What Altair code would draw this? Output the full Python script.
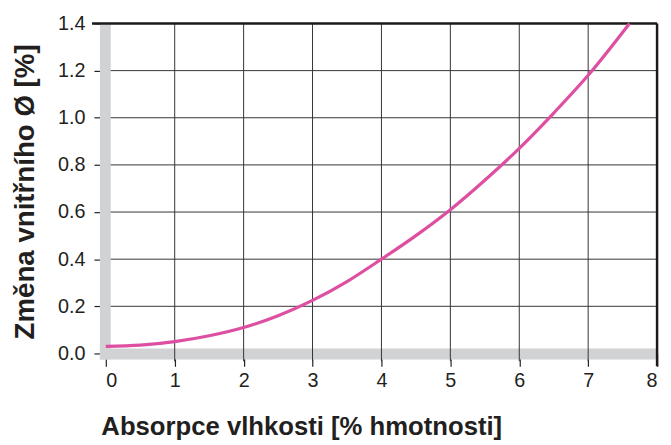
import altair as alt
import pandas as pd

# Data
absorption = [0, 0.5, 1, 1.5, 2, 2.5, 3, 3.5, 4, 4.5, 5, 5.5, 6, 6.5, 7, 7.6]
change = [0.03, 0.035, 0.05, 0.075, 0.11, 0.16, 0.225, 0.305, 0.40, 0.50,
          0.61, 0.735, 0.87, 1.02, 1.18, 1.40]
x_ticks = [0, 1, 2, 3, 4, 5, 6, 7, 8]
y_ticks = [0.0, 0.2, 0.4, 0.6, 0.8, 1.0, 1.2, 1.4]
x_grid = [1, 2, 3, 4, 5, 6, 7]
y_grid = [0.2, 0.4, 0.6, 0.8, 1.0, 1.2]

W, H = 558, 334
FONT = "Liberation Sans"
GRAY = "#d1d2d4"
PINK = "#de4fa2"
TXT = "#231f20"

xs = alt.Scale(domain=[0, 8], nice=False, zero=False)
ys = alt.Scale(domain=[0, 1.4], nice=False, zero=False)

curve_df = pd.DataFrame({"x": absorption, "y": change})
xg_df = pd.DataFrame({"x": x_grid})
yg_df = pd.DataFrame({"y": y_grid})
one = pd.DataFrame({"a": [0]})

# horizontal grid lines
hgrid = alt.Chart(yg_df).mark_rule(color="#333333", strokeWidth=1).encode(
    y=alt.Y("y:Q", scale=ys),
    x=alt.value(0), x2=alt.value(W),
)

# gray bands along the axes
left_band = alt.Chart(one).mark_rect(color=GRAY).encode(
    x=alt.value(-6), x2=alt.value(5), y=alt.value(0), y2=alt.value(H + 6)
)
bottom_band = alt.Chart(one).mark_rect(color=GRAY).encode(
    x=alt.value(-6), x2=alt.value(W), y=alt.value(H - 5), y2=alt.value(H + 6)
)

# vertical grid lines
vgrid = alt.Chart(xg_df).mark_rule(color="#333333", strokeWidth=1).encode(
    x=alt.X("x:Q", scale=xs),
    y=alt.value(0), y2=alt.value(H + 8),
)

# top and right borders
top_border = alt.Chart(one).mark_rule(color="#1a1a1a", strokeWidth=2.5).encode(
    x=alt.value(-14), x2=alt.value(W), y=alt.value(0)
)
right_border = alt.Chart(one).mark_rule(color="#1a1a1a", strokeWidth=2.5).encode(
    x=alt.value(W), y=alt.value(0), y2=alt.value(H + 13)
)

curve = alt.Chart(curve_df).mark_line(
    color=PINK, strokeWidth=3.2, interpolate="monotone"
).encode(
    x=alt.X("x:Q", scale=xs, axis=alt.Axis(
        values=x_ticks, format="d", title="Absorpce vlhkosti [% hmotnosti]",
        domain=False, grid=False, tickSize=13, tickColor="#222222", tickWidth=1.2,
        labelPadding=4, labelFontSize=20, labelColor=TXT, labelFont=FONT,
        titleFont=FONT, titleFontSize=26, titleFontWeight="bold", titleColor=TXT,
        titleAnchor="start", titleAlign="left", titleX=-5, titleY=82,
        titleBaseline="alphabetic", zindex=0,
    )),
    y=alt.Y("y:Q", scale=ys, axis=alt.Axis(
        values=y_ticks, format=".1f", title="Změna vnitřního Ø [%]",
        domain=False, grid=False, tickSize=12, tickColor="#222222", tickWidth=1.2,
        labelPadding=9, labelFontSize=20, labelColor=TXT, labelFont=FONT,
        titleFont=FONT, titleFontSize=28, titleFontWeight="bold", titleColor=TXT,
        titleAngle=270, titleAlign="center", titleBaseline="alphabetic",
        titleX=-73, titleY=170, zindex=0,
    )),
)

chart = alt.layer(
    hgrid, left_band, bottom_band, vgrid, top_border, right_border, curve
).properties(
    width=W, height=H,
    padding={"left": 99, "top": 13, "right": 6, "bottom": 90},
    autosize=alt.AutoSizeParams(type="none"),
).configure_view(stroke=None)

chart.save("out.html", embed_options={"renderer": "svg", "actions": False})
